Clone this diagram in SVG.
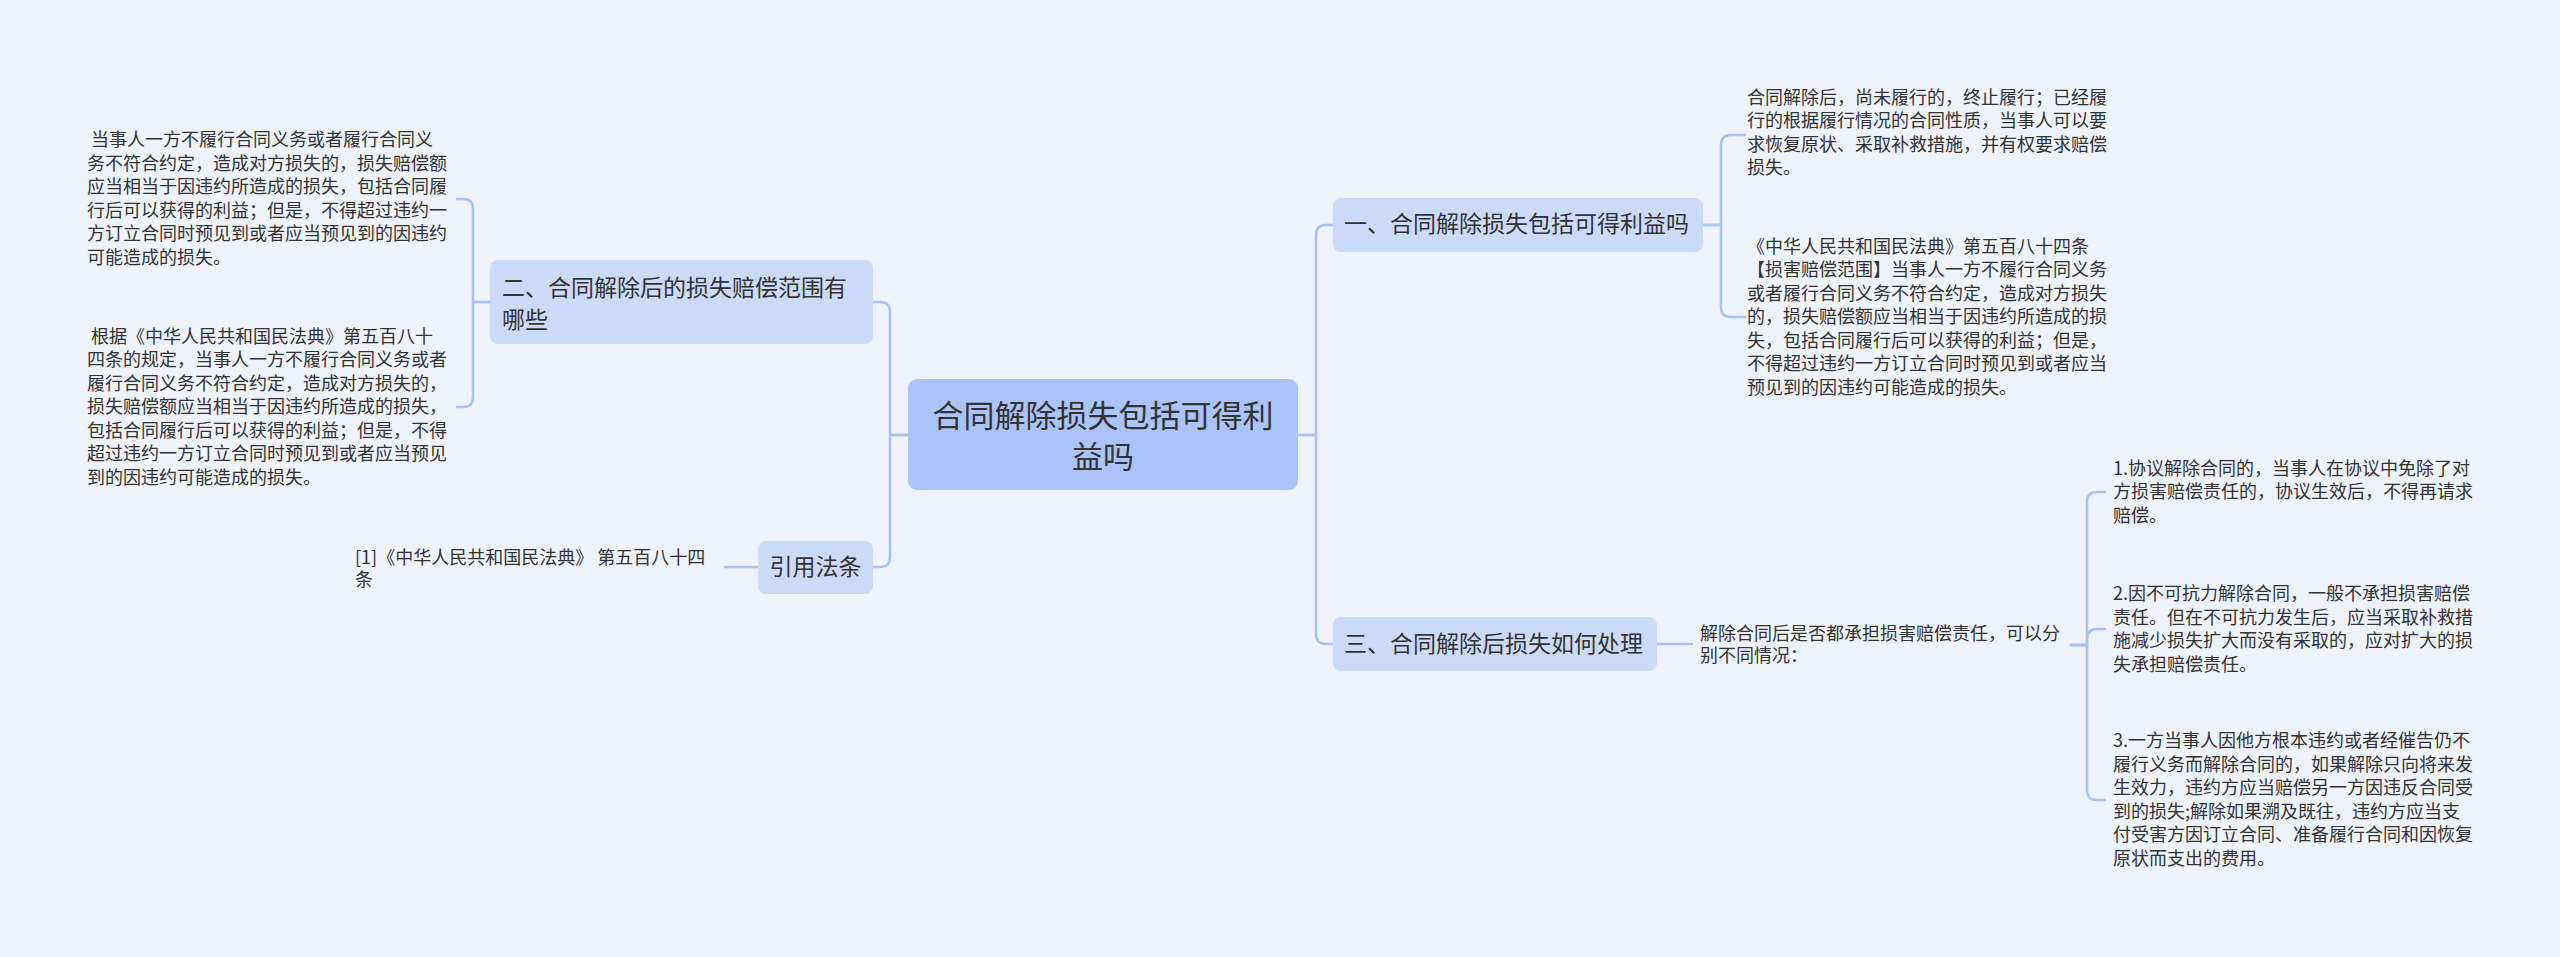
<svg xmlns="http://www.w3.org/2000/svg" width="2560" height="957" viewBox="0 0 2560 957">
<style>
text{font-family:"Noto Sans CJK SC","Noto Sans",sans-serif;fill:#333333;}
.root{fill:#aac3f9;}
.br{fill:#cbdaf9;}
.t30{font-size:31px;}
.t23{font-size:23px;}
.t18{font-size:18px;}
.ln{fill:none;stroke:#a9c1f1;stroke-width:2.5;stroke-linecap:round;stroke-linejoin:round;}
</style>
<rect x="0" y="0" width="2560" height="957" fill="#eef2fb"/>
<g id="connectors">
<path class="ln" d="M908,435 H890 V312 Q890,302 880,302 H873"/>
<path class="ln" d="M908,435 H890 V557 Q890,567 880,567 H873"/>
<path class="ln" d="M1298,435 H1316 V235 Q1316,225 1326,225 H1333"/>
<path class="ln" d="M1298,435 H1316 V634 Q1316,644 1326,644 H1333"/>
<path class="ln" d="M490,302 H473 V209 Q473,199 463,199 H457"/>
<path class="ln" d="M490,302 H473 V397 Q473,407 463,407 H457"/>
<path class="ln" d="M758,567 H725"/>
<path class="ln" d="M1703,225 H1721 V145 Q1721,135 1731,135 H1745"/>
<path class="ln" d="M1703,225 H1721 V307 Q1721,317 1731,317 H1745"/>
<path class="ln" d="M1657,644 H1692"/>
<path class="ln" d="M2071,645 H2087 V502 Q2087,492 2097,492 H2105"/>
<path class="ln" d="M2071,645 H2087 V639 Q2087,629 2097,629 H2105"/>
<path class="ln" d="M2071,645 H2087 V790 Q2087,800 2097,800 H2105"/>
</g>
<g id="root">
<rect class="root" x="908" y="379" width="390" height="111" rx="9"/>
<text class="t30" x="1103" y="427" text-anchor="middle">合同解除损失包括可得利</text>
<text class="t30" x="1103" y="468" text-anchor="middle">益吗</text>
</g>
<g id="branch2">
<rect class="br" x="490" y="260" width="383" height="84" rx="8"/>
<text class="t23" x="502" y="296">二、合同解除后的损失赔偿范围有</text>
<text class="t23" x="502" y="328">哪些</text>
</g>
<g id="b2c1">
<text class="t18" x="87" y="146" xml:space="preserve"> 当事人一方不履行合同义务或者履行合同义</text>
<text class="t18" x="87" y="170">务不符合约定，造成对方损失的，损失赔偿额</text>
<text class="t18" x="87" y="193">应当相当于因违约所造成的损失，包括合同履</text>
<text class="t18" x="87" y="217">行后可以获得的利益；但是，不得超过违约一</text>
<text class="t18" x="87" y="240">方订立合同时预见到或者应当预见到的因违约</text>
<text class="t18" x="87" y="264">可能造成的损失。</text>
</g>
<g id="b2c2">
<text class="t18" x="87" y="343" xml:space="preserve"> 根据《中华人民共和国民法典》第五百八十</text>
<text class="t18" x="87" y="366">四条的规定，当事人一方不履行合同义务或者</text>
<text class="t18" x="87" y="390">履行合同义务不符合约定，造成对方损失的，</text>
<text class="t18" x="87" y="413">损失赔偿额应当相当于因违约所造成的损失，</text>
<text class="t18" x="87" y="437">包括合同履行后可以获得的利益；但是，不得</text>
<text class="t18" x="87" y="460">超过违约一方订立合同时预见到或者应当预见</text>
<text class="t18" x="87" y="484">到的因违约可能造成的损失。</text>
</g>
<g id="cite">
<rect class="br" x="758" y="541" width="115" height="53" rx="8"/>
<text class="t23" x="815.5" y="575" text-anchor="middle">引用法条</text>
</g>
<g id="citec1">
<text class="t18" x="355" y="564">[1]《中华人民共和国民法典》 第五百八十四</text>
<text class="t18" x="355" y="586">条</text>
</g>
<g id="branch1">
<rect class="br" x="1333" y="198" width="370" height="54" rx="8"/>
<text class="t23" x="1344" y="232">一、合同解除损失包括可得利益吗</text>
</g>
<g id="b1c1">
<text class="t18" x="1747" y="104">合同解除后，尚未履行的，终止履行；已经履</text>
<text class="t18" x="1747" y="127">行的根据履行情况的合同性质，当事人可以要</text>
<text class="t18" x="1747" y="151">求恢复原状、采取补救措施，并有权要求赔偿</text>
<text class="t18" x="1747" y="174">损失。</text>
</g>
<g id="b1c2">
<text class="t18" x="1747" y="253">《中华人民共和国民法典》第五百八十四条</text>
<text class="t18" x="1747" y="276">【损害赔偿范围】当事人一方不履行合同义务</text>
<text class="t18" x="1747" y="300">或者履行合同义务不符合约定，造成对方损失</text>
<text class="t18" x="1747" y="323">的，损失赔偿额应当相当于因违约所造成的损</text>
<text class="t18" x="1747" y="347">失，包括合同履行后可以获得的利益；但是，</text>
<text class="t18" x="1747" y="370">不得超过违约一方订立合同时预见到或者应当</text>
<text class="t18" x="1747" y="394">预见到的因违约可能造成的损失。</text>
</g>
<g id="branch3">
<rect class="br" x="1333" y="617" width="324" height="54" rx="8"/>
<text class="t23" x="1344" y="652">三、合同解除后损失如何处理</text>
</g>
<g id="b3c1">
<text class="t18" x="1700" y="640">解除合同后是否都承担损害赔偿责任，可以分</text>
<text class="t18" x="1700" y="662">别不同情况：</text>
</g>
<g id="b3c1a">
<text class="t18" x="2113" y="475">1.协议解除合同的，当事人在协议中免除了对</text>
<text class="t18" x="2113" y="498">方损害赔偿责任的，协议生效后，不得再请求</text>
<text class="t18" x="2113" y="522">赔偿。</text>
</g>
<g id="b3c1b">
<text class="t18" x="2113" y="600">2.因不可抗力解除合同，一般不承担损害赔偿</text>
<text class="t18" x="2113" y="624">责任。但在不可抗力发生后，应当采取补救措</text>
<text class="t18" x="2113" y="647">施减少损失扩大而没有采取的，应对扩大的损</text>
<text class="t18" x="2113" y="671">失承担赔偿责任。</text>
</g>
<g id="b3c1c">
<text class="t18" x="2113" y="747">3.一方当事人因他方根本违约或者经催告仍不</text>
<text class="t18" x="2113" y="771">履行义务而解除合同的，如果解除只向将来发</text>
<text class="t18" x="2113" y="794">生效力，违约方应当赔偿另一方因违反合同受</text>
<text class="t18" x="2113" y="818">到的损失;解除如果溯及既往，违约方应当支</text>
<text class="t18" x="2113" y="841">付受害方因订立合同、准备履行合同和因恢复</text>
<text class="t18" x="2113" y="865">原状而支出的费用。</text>
</g>
</svg>
